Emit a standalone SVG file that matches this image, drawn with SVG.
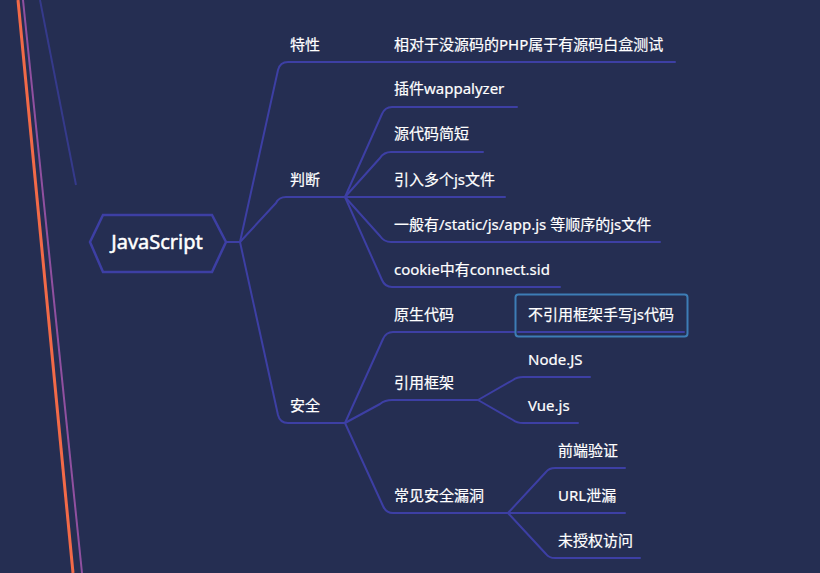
<svg xmlns="http://www.w3.org/2000/svg" width="820" height="573" viewBox="0 0 820 573">
<style>
.t{font-family:"Noto Sans","Noto Sans CJK SC",sans-serif;font-size:15px;fill:#ffffff;stroke:#ffffff;stroke-width:0.2}
.c path{fill:none;stroke:#3d3fa4;stroke-width:2;stroke-linecap:round;stroke-linejoin:round}
</style>
<rect width="820" height="573" fill="#252e52"/>
<g id="decor">
<line x1="40" y1="0" x2="76" y2="185" stroke="#3a3d9a" stroke-width="2" opacity="0.8"/>
<line x1="23" y1="0" x2="82" y2="573" stroke="#9050a0" stroke-width="2"/>
<line x1="18" y1="0" x2="73" y2="573" stroke="#f26a48" stroke-width="3"/>
</g>
<g class="c" id="connectors">
<path d="M226,242 L240,242"/>
<path d="M240,242 L278,70 Q280,62 288,62 L675,62"/>
<path d="M240,242 L276,203 Q279,197 286,197 L345,197"/>
<path d="M240,242 L278,415 Q280,423 288,423 L345,423"/>
<path d="M345,197 L382,114 Q385,107 392,107 L517,107"/>
<path d="M345,197 L380,158 Q384,152 391,152 L483,152"/>
<path d="M345,197 L505,197"/>
<path d="M345,197 L380,236 Q384,242 391,242 L660,242"/>
<path d="M345,197 L382,280 Q385,287 392,287 L560,287"/>
<path d="M345,423 L383,339 Q386,332 393,332 L515,332"/>
<path d="M345,423 L380,404 Q385,400 392,400 L478,400"/>
<path d="M345,423 L383,506 Q386,513 393,513 L508,513"/>
<path d="M478,400 L513,380 Q517,377 523,377 L590,377"/>
<path d="M478,400 L513,420 Q517,423 523,423 L578,423"/>
<path d="M508,513 L546,472 Q549,468 555,468 L625,468"/>
<path d="M508,513 L625,513"/>
<path d="M508,513 L546,554 Q549,558 555,558 L640,558"/>
<path d="M518,332 L684,332"/>
</g>
<g id="root">
<polygon points="90,242 103,215 212,215 226,242 212,272 103,272" fill="#252e52" stroke="#3d3fa4" stroke-width="2.5"/>
<text class="t" x="157" y="249" text-anchor="middle" style="font-size:20px;stroke-width:0.5">JavaScript</text>
</g>
<g id="n-texing"><text class="t" x="290" y="50">特性</text></g>
<g id="n-texing-1"><text class="t" x="394" y="50">相对于没源码的PHP属于有源码白盒测试</text></g>
<g id="n-panduan"><text class="t" x="290" y="185">判断</text></g>
<g id="n-pd-1"><text class="t" x="394" y="94">插件wappalyzer</text></g>
<g id="n-pd-2"><text class="t" x="394" y="139">源代码简短</text></g>
<g id="n-pd-3"><text class="t" x="394" y="185">引入多个js文件</text></g>
<g id="n-pd-4"><text class="t" x="394" y="230">一般有/static/js/app.js 等顺序的js文件</text></g>
<g id="n-pd-5"><text class="t" x="394" y="275">cookie中有connect.sid</text></g>
<g id="n-anquan"><text class="t" x="290" y="411">安全</text></g>
<g id="n-aq-1"><text class="t" x="394" y="320">原生代码</text></g>
<g id="n-aq-1-1">
<rect x="515.5" y="294.5" width="172" height="42" rx="3" fill="none" stroke="#3d7db6" stroke-width="2"/>
<text class="t" x="528" y="320">不引用框架手写js代码</text>
</g>
<g id="n-aq-2"><text class="t" x="394" y="388">引用框架</text></g>
<g id="n-aq-2-1"><text class="t" x="528" y="365">Node.JS</text></g>
<g id="n-aq-2-2"><text class="t" x="528" y="411">Vue.js</text></g>
<g id="n-aq-3"><text class="t" x="394" y="501">常见安全漏洞</text></g>
<g id="n-aq-3-1"><text class="t" x="558" y="456">前端验证</text></g>
<g id="n-aq-3-2"><text class="t" x="558" y="501">URL泄漏</text></g>
<g id="n-aq-3-3"><text class="t" x="558" y="546">未授权访问</text></g>
</svg>
